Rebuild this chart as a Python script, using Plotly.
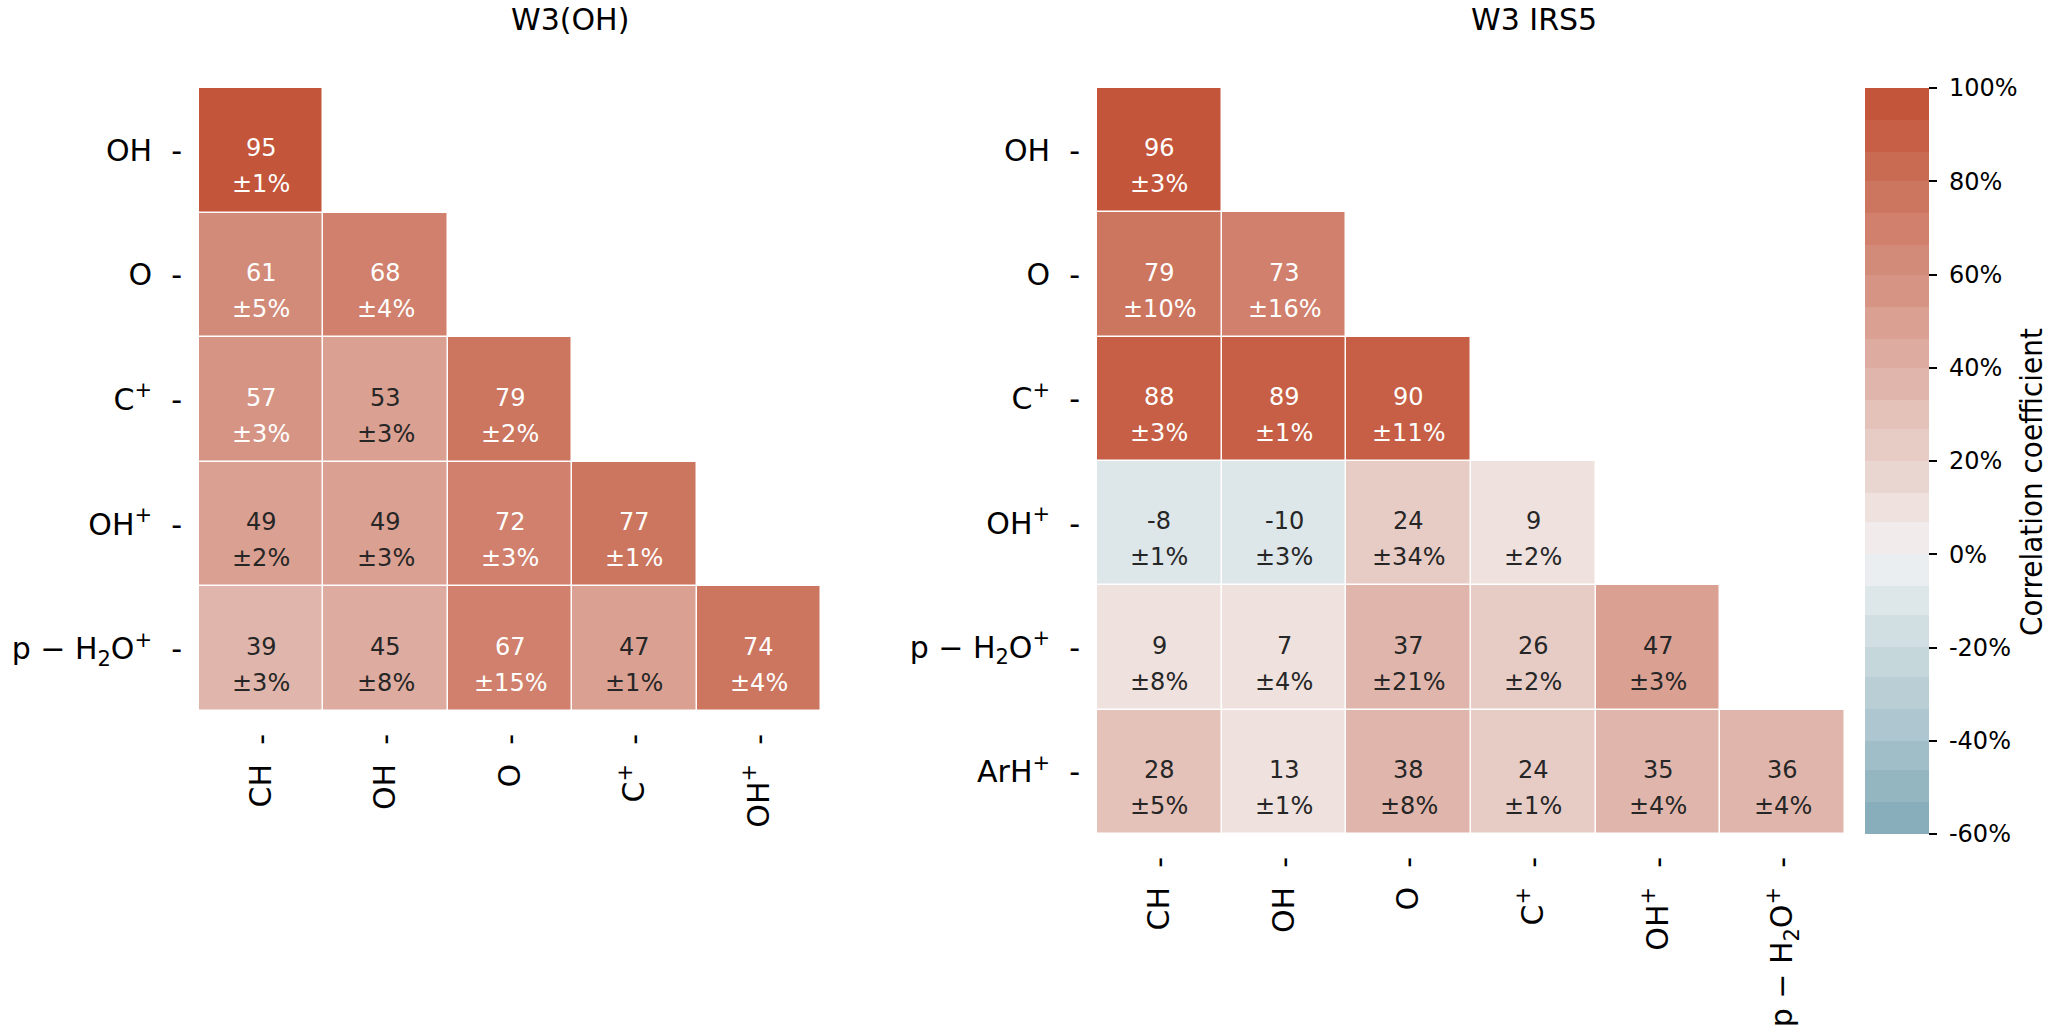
import math
import numpy as np
import plotly.graph_objects as go

# ---------------- data ----------------
left_title = "W3(OH)"
right_title = "W3 IRS5"
cbar_title = "Correlation coefficient"

left_rows = ["OH", "O", "C<sup>+</sup>", "OH<sup>+</sup>", "p − H<sub>2</sub>O<sup>+</sup>"]
left_cols = ["CH", "OH", "O", "C<sup>+</sup>", "OH<sup>+</sup>"]
left_corr = [
    [95],
    [61, 68],
    [57, 53, 79],
    [49, 49, 72, 77],
    [39, 45, 67, 47, 74],
]
left_err = [
    [1],
    [5, 4],
    [3, 3, 2],
    [2, 3, 3, 1],
    [3, 8, 15, 1, 4],
]

right_rows = ["OH", "O", "C<sup>+</sup>", "OH<sup>+</sup>", "p − H<sub>2</sub>O<sup>+</sup>", "ArH<sup>+</sup>"]
right_cols = ["CH", "OH", "O", "C<sup>+</sup>", "OH<sup>+</sup>", "p − H<sub>2</sub>O<sup>+</sup>"]
right_corr = [
    [96],
    [79, 73],
    [88, 89, 90],
    [-8, -10, 24, 9],
    [9, 7, 37, 26, 47],
    [28, 13, 38, 24, 35, 36],
]
right_err = [
    [3],
    [10, 16],
    [3, 1, 11],
    [1, 3, 34, 2],
    [8, 4, 21, 2, 3],
    [5, 1, 8, 1, 4, 4],
]

cbar_tickvals = [-60, -40, -20, 0, 20, 40, 60, 80, 100]
cbar_ticktext = ["-60%", "-40%", "-20%", "0%", "20%", "40%", "60%", "80%", "100%"]
VMIN, VMAX = -60, 100

# ---------------- colour map (seaborn diverging_palette(220, 20, n=30), centred at 0) ----------------
_m = [[3.2406, -1.5372, -0.4986], [-0.9689, 1.8758, 0.0415], [0.0557, -0.2040, 1.0570]]
_refU, _refV = 0.19784, 0.46834
_lab_e, _lab_k = 0.008856, 903.3


def _max_chroma(L, H):
    hrad = math.radians(H)
    sinH, cosH = math.sin(hrad), math.cos(hrad)
    sub1 = (L + 16) ** 3 / 1560896.0
    sub2 = sub1 if sub1 > 0.008856 else L / 903.3
    result = float("inf")
    for m1, m2, m3 in _m:
        top = (0.99915 * m1 + 1.05122 * m2 + 1.14460 * m3) * sub2
        rbottom = 0.86330 * m3 - 0.17266 * m2
        lbottom = 0.12949 * m3 - 0.38848 * m1
        bottom = (rbottom * sinH + lbottom * cosH) * sub2
        for t in (0.0, 1.0):
            C = L * (top - 1.05122 * t) / (bottom + 0.17266 * sinH * t)
            if 0.0 < C < result:
                result = C
    return result


def _f_inv(t):
    return t ** 3 if t ** 3 > _lab_e else (116.0 * t - 16.0) / _lab_k


def _from_linear(c):
    return 12.92 * c if c <= 0.0031308 else 1.055 * c ** (1 / 2.4) - 0.055


def husl_to_rgb(H, S, L):
    C = _max_chroma(L, H) / 100.0 * S
    hrad = math.radians(H)
    U, V = math.cos(hrad) * C, math.sin(hrad) * C
    varY = _f_inv((L + 16.0) / 116.0)
    varU = U / (13.0 * L) + _refU
    varV = V / (13.0 * L) + _refV
    Y = varY
    X = -(9.0 * Y * varU) / ((varU - 4.0) * varV - varU * varV)
    Z = (9.0 * Y - 15.0 * varV * Y - varV * X) / (3.0 * varV)
    rgb = [_from_linear(r[0] * X + r[1] * Y + r[2] * Z) for r in _m]
    return np.clip(rgb, 0, 1)


def blend(colors, n):
    colors = np.array(colors, dtype=float)
    xs = np.linspace(0, 1, len(colors))
    out = []
    for p in np.linspace(0, 1, n):
        q = min(int(p * 256), 255) / 255
        out.append([np.interp(q, xs, colors[:, c]) for c in range(3)])
    return np.array(out)


def light_pal(h, s, l, n, reverse=False):
    rgb = husl_to_rgb(h, s, l)
    gray = husl_to_rgb(h, 0.15 * s, 95)
    return blend([rgb, gray] if reverse else [gray, rgb], n)


neg = light_pal(220, 75, 50, 128, reverse=True)
pos = light_pal(20, 75, 50, 128)
pal30 = blend(np.concatenate([neg, [[0.95, 0.95, 0.95]], pos]), 30)

cc = np.linspace(0.2, 1.0, 256)
band_of_lut = np.minimum((cc * 30).astype(int), 29)


def to_hex(c):
    return "#%02x%02x%02x" % tuple(int(round(v * 255)) for v in c)


colorscale = []
for k in sorted(set(band_of_lut.tolist())):
    idx = np.where(band_of_lut == k)[0]
    lo, hi = idx[0] / 256, (idx[-1] + 1) / 256
    colorscale += [[lo, to_hex(pal30[k])], [min(hi, 1.0), to_hex(pal30[k])]]


def cell_color(v):
    x = (v - VMIN) / (VMAX - VMIN)
    i = min(max(int(x * 256), 0), 255)
    return pal30[band_of_lut[i]]


def text_color(v):
    rgb = np.array(cell_color(v))
    rgb = np.where(rgb <= 0.03928, rgb / 12.92, ((rgb + 0.055) / 1.055) ** 2.4)
    lum = rgb.dot([0.2126, 0.7152, 0.0722])
    return "#262626" if lum > 0.408 else "white"


# ---------------- figure ----------------
W, H = 2052, 1034
FONT = "DejaVu Sans"


def px(X):  # screen x -> paper fraction
    return X / W


def py(Y):  # screen y -> paper fraction
    return 1 - Y / H


def tri_matrix(vals, n):
    z = [[None] * n for _ in range(n)]
    for i, row in enumerate(vals):
        for j, v in enumerate(row):
            z[i][j] = v
    return z


fig = go.Figure()
annotations = []


def add_panel(corr, err, rows, cols, xa, ya):
    n = len(rows)
    fig.add_trace(go.Heatmap(
        z=tri_matrix(corr, n), x=list(range(len(cols))), y=list(range(n)),
        coloraxis="coloraxis", xaxis=xa, yaxis=ya, xgap=1.5, ygap=1.5,
        hoverongaps=False,
    ))
    for i, row in enumerate(corr):
        for j, v in enumerate(row):
            col = text_color(v)
            annotations.append(dict(x=j, y=i, xref=xa, yref=ya, text=str(v), showarrow=False,
                                    font=dict(family=FONT, size=24, color=col), yshift=2))
            annotations.append(dict(x=j, y=i, xref=xa, yref=ya, text="±%d%%" % err[i][j], showarrow=False,
                                    font=dict(family=FONT, size=24, color=col), yshift=-34))


add_panel(left_corr, left_err, left_rows, left_cols, "x", "y")
add_panel(right_corr, right_err, right_rows, right_cols, "x2", "y2")


def ax(domain, labels, reverse=False, angle=0):
    n = len(labels)
    return dict(
        domain=domain, range=[n - 0.5, -0.5] if reverse else [-0.5, n - 0.5],
        tickmode="array", tickvals=list(range(n)), ticktext=[l + "  -" for l in labels],
        showgrid=False, zeroline=False, showline=False, ticks="", tickangle=angle,
        tickfont=dict(family=FONT, size=30, color="black"), ticklabelstandoff=16,
        fixedrange=True, automargin=False,
    )


fig.update_layout(
    width=W, height=H, margin=dict(l=0, r=0, t=0, b=0, autoexpand=False),
    paper_bgcolor="white", plot_bgcolor="white", showlegend=False,
    xaxis=dict(ax([px(199), px(821)], left_cols, angle=-90), anchor="y"),
    yaxis=dict(ax([py(711), py(88)], left_rows, reverse=True), anchor="x"),
    xaxis2=dict(ax([px(1097), px(1845)], right_cols, angle=-90), anchor="y2"),
    yaxis2=dict(ax([py(834), py(88)], right_rows, reverse=True), anchor="x2"),
    coloraxis=dict(
        colorscale=colorscale, cmin=VMIN, cmax=VMAX,
        colorbar=dict(
            x=px(1865), xanchor="left", y=py(461), yanchor="middle",
            len=746, lenmode="pixels", thickness=64, thicknessmode="pixels",
            xpad=0, ypad=0, outlinewidth=0,
            ticks="outside", ticklen=8, tickwidth=1.5, tickcolor="black",
            tickvals=cbar_tickvals, ticktext=[" " + t for t in cbar_ticktext],
            tickfont=dict(family=FONT, size=24, color="black"),
        ),
    ),
)

annotations += [
    dict(x=px(570), y=py(19), xref="paper", yref="paper", text=left_title, showarrow=False,
         font=dict(family=FONT, size=30, color="black"), xanchor="center", yanchor="middle"),
    dict(x=px(1534), y=py(19), xref="paper", yref="paper", text=right_title, showarrow=False,
         font=dict(family=FONT, size=30, color="black"), xanchor="center", yanchor="middle"),
    dict(x=px(2031), y=py(482), xref="paper", yref="paper", text=cbar_title, showarrow=False,
         textangle=-90, font=dict(family="DejaVu Sans Condensed, DejaVu Sans", size=31, color="black"),
         xanchor="center", yanchor="middle"),
]
fig.update_layout(annotations=annotations)

# remove the browser's default 8px body margin so the figure starts at the window corner
fig.write_html("out.html", config={"displayModeBar": False},
               post_script="document.body.style.margin='0px';")
